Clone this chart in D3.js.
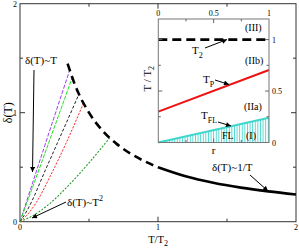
<!DOCTYPE html>
<html><head><meta charset="utf-8">
<script src="https://cdn.jsdelivr.net/npm/d3@7"></script>
<style>body{margin:0;background:#fff}svg{display:block}text{font-family:"Liberation Serif","Times New Roman",serif;fill:#000}</style>
</head><body><svg id="c" width="299" height="249"></svg>
<script>
// ---- data ----
const xTicksMain = [0, 1, 2];
const yTicksMain = [0, 1, 2];
const purpleT = [0, 0.18, 0.36];
const purpleD = [0, 0.70, 1.39];
const greenT = [0, 0.19, 0.378];
const greenD = [0, 0.66, 1.32];
const blackT = [0, 0.05, 0.2, 0.427];
const blackD = [0, 0.1, 0.52, 1.17];
const redT = [0, 0.05, 0.12, 0.22, 0.33, 0.46];
const redD = [0, 0.06, 0.18, 0.42, 0.71, 1.087];
const dotT = [0, 0.1, 0.2, 0.35, 0.5, 0.65];
const dotD = [0, 0.06, 0.15, 0.33, 0.54, 0.77];
const dashT = [0.345, 0.4, 0.5, 0.6, 0.7, 0.8, 0.9, 1.0];
const dashD = [1.45, 1.25, 1.0, 0.833, 0.714, 0.625, 0.556, 0.5];
const solidT = [1, 1.2, 1.4, 1.6, 1.8, 2];
const solidD = [0.5, 0.417, 0.357, 0.3125, 0.278, 0.25];
// inset
const insetR = [0, 1];
const insetT2 = [1, 1];
const insetTP = [0.3, 0.705];
const insetTFL = [0, 0.24];
const insetXTicks = [0, 0.5, 1];
const insetYTicks = [0, 0.5, 1];

const svg = d3.select("#c");
const x = d3.scaleLinear().domain([0, 2]).range([20, 296]);
const y = d3.scaleLinear().domain([0, 2]).range([221.7, 3.7]);

const zip = (a, b) => a.map((v, i) => [v, b[i]]);

// arrow marker
const defs = svg.append("defs");
defs.append("marker").attr("id", "ah").attr("viewBox", "0 0 10 10").attr("refX", 10).attr("refY", 5)
  .attr("markerWidth", 6).attr("markerHeight", 5).attr("orient", "auto").attr("markerUnits", "userSpaceOnUse")
  .append("path").attr("d", "M0,0L10,5L0,10z").attr("fill", "#000");
const pat = defs.append("pattern").attr("id", "hatch").attr("patternUnits", "userSpaceOnUse")
  .attr("width", 2.6).attr("height", 4);
pat.append("line").attr("x1", 0.5).attr("x2", 0.5).attr("y1", 0).attr("y2", 4)
  .attr("stroke", "#3fd6cc").attr("stroke-width", 0.9);

// main frame
svg.append("rect").attr("x", x(0)).attr("y", y(2)).attr("width", x(2) - x(0)).attr("height", y(0) - y(2))
  .attr("fill", "none").attr("stroke", "#333").attr("stroke-width", 1);

// main ticks (inward), all four sides
const tk = svg.append("g").attr("stroke", "#333").attr("stroke-width", 1);
[0.5, 1, 1.5].forEach(v => {
  const L = Number.isInteger(v) ? 5 : 3;
  tk.append("line").attr("x1", x(v)).attr("x2", x(v)).attr("y1", y(0)).attr("y2", y(0) - L);
  tk.append("line").attr("x1", x(v)).attr("x2", x(v)).attr("y1", y(2)).attr("y2", y(2) + L);
  tk.append("line").attr("x1", x(0)).attr("x2", x(0) + L).attr("y1", y(v)).attr("y2", y(v));
  tk.append("line").attr("x1", x(2)).attr("x2", x(2) - L).attr("y1", y(v)).attr("y2", y(v));
});
xTicksMain.forEach(v => svg.append("text").attr("x", x(v)).attr("y", y(0) + 8.5).attr("text-anchor", "middle")
  .attr("font-size", 8).text(v));
yTicksMain.forEach(v => svg.append("text").attr("x", x(0) - 3).attr("y", y(v) + 3).attr("text-anchor", "end")
  .attr("font-size", 8).text(v));

svg.append("text").attr("transform", `translate(12,${y(1)}) rotate(-90)`).attr("text-anchor", "middle")
  .attr("font-size", 12).text("δ(T)");
const xl = svg.append("text").attr("x", x(1)).attr("y", 243).attr("text-anchor", "middle").attr("font-size", 10.5);
xl.append("tspan").text("T/T");
xl.append("tspan").attr("font-size", 8).attr("dy", 3).text("2");

const line = d3.line().x(d => x(d[0])).y(d => y(d[1])).curve(d3.curveMonotoneX);
const curves = [
  [purpleT, purpleD, "#9a3cf0", "4,1.6", 1],
  [greenT, greenD, "#22e022", "4,1.2", 1],
  [blackT, blackD, "#222", "3,2", 1],
  [redT, redD, "#ff2a2a", "2.2,1.4", 1],
  [dotT, dotD, "#2a962a", "2,1.5", 1.1],
];
curves.forEach(([t, d, c, da, w]) => svg.append("path").attr("d", line(zip(t, d))).attr("fill", "none")
  .attr("stroke", c).attr("stroke-width", w).attr("stroke-dasharray", da));

svg.append("path").attr("d", line(zip(dashT, dashD))).attr("fill", "none").attr("stroke", "#000")
  .attr("stroke-width", 2.6).attr("stroke-dasharray", "8,5");
svg.append("path").attr("d", line(zip(solidT, solidD))).attr("fill", "none").attr("stroke", "#000")
  .attr("stroke-width", 2.6);

// main annotations
function label(xp, yp, parts, fs) {
  const t = svg.append("text").attr("x", xp).attr("y", yp).attr("font-size", fs);
  parts.forEach(p => { const s = t.append("tspan").text(p[0]); if (p[1]) s.attr("font-size", p[1]).attr("dy", p[2]); });
  return t;
}
function arrow(x1, y1, x2, y2) {
  svg.append("line").attr("x1", x1).attr("y1", y1).attr("x2", x2).attr("y2", y2)
    .attr("stroke", "#000").attr("stroke-width", 1).attr("marker-end", "url(#ah)");
}
label(25, 64, [["δ(T)~T"]], 11);
arrow(34, 70, 32.5, 172);
label(67, 206, [["δ(T)~T"], ["2", 8, -5]], 11);
arrow(66, 202, 32, 218);
label(212, 171, [["δ(T)~1/T"]], 11);
arrow(250, 175, 268, 191);

// ---- inset ----
const ix = d3.scaleLinear().domain([0, 1]).range([158.3, 269]);
const iy = d3.scaleLinear().domain([0, 1.2]).range([142.5, 19]);
const ig = svg.append("g");
ig.append("rect").attr("x", ix(0)).attr("y", iy(1.2)).attr("width", ix(1) - ix(0)).attr("height", iy(0) - iy(1.2))
  .attr("fill", "#fff");
const iline = d3.line().x(d => ix(d[0])).y(d => iy(d[1]));
const area = d3.area().x(d => ix(d[0])).y0(iy(0)).y1(d => iy(d[1]));
ig.append("path").attr("d", area(zip(insetR, insetTFL))).attr("fill", "url(#hatch)");
ig.append("path").attr("d", iline(zip(insetR, insetTFL))).attr("fill", "none").attr("stroke", "#3fd6cc").attr("stroke-width", 2);
ig.append("path").attr("d", iline(zip(insetR, insetTP))).attr("fill", "none").attr("stroke", "#f01010").attr("stroke-width", 2);
ig.append("path").attr("d", iline(zip(insetR, insetT2))).attr("fill", "none").attr("stroke", "#000").attr("stroke-width", 2.6)
  .attr("stroke-dasharray", "9,5");
ig.append("rect").attr("x", ix(0)).attr("y", iy(1.2)).attr("width", ix(1) - ix(0)).attr("height", iy(0) - iy(1.2))
  .attr("fill", "none").attr("stroke", "#777").attr("stroke-width", 1);
const itk = ig.append("g").attr("stroke", "#666").attr("stroke-width", 1);
[0.25, 0.5, 0.75].forEach(v => {
  const L = v === 0.5 ? 4 : 2.5;
  itk.append("line").attr("x1", ix(v)).attr("x2", ix(v)).attr("y1", iy(0)).attr("y2", iy(0) - L);
  itk.append("line").attr("x1", ix(v)).attr("x2", ix(v)).attr("y1", iy(1.2)).attr("y2", iy(1.2) + L);
});
[0.25, 0.5, 0.75, 1].forEach(v => {
  const L = (v === 0.5 || v === 1) ? 4 : 2.5;
  itk.append("line").attr("x1", ix(0)).attr("x2", ix(0) + L).attr("y1", iy(v)).attr("y2", iy(v));
  itk.append("line").attr("x1", ix(1)).attr("x2", ix(1) - L).attr("y1", iy(v)).attr("y2", iy(v));
});
insetXTicks.forEach(v => ig.append("text").attr("x", ix(v)).attr("y", iy(1.2) - 3).attr("text-anchor", "middle")
  .attr("font-size", 8).text(v));
insetYTicks.forEach(v => ig.append("text").attr("x", ix(1) + 3).attr("y", iy(v) + 3).attr("font-size", 8).text(v));
ig.append("text").attr("x", ix(0.5)).attr("y", iy(0) + 11).attr("text-anchor", "middle").attr("font-size", 11).text("r");
const iyl = ig.append("text").attr("transform", `translate(151,${iy(0.62)}) rotate(-90)`).attr("text-anchor", "middle").attr("font-size", 11);
iyl.append("tspan").text("T / T");
iyl.append("tspan").attr("font-size", 8).attr("dy", 3).text("2");

label(245, 31, [["(III)"]], 10);
label(245, 64, [["(IIb)"]], 10);
label(244, 110, [["(IIa)"]], 10);
label(246, 139, [["(I)"]], 10);
label(222, 139, [["FL"]], 10);
label(192, 54, [["T", 11], ["2", 8, 4]], 11);
arrow(205, 48, 227, 39.5);
label(203, 83, [["T"], ["P", 8, 4]], 11);
arrow(215, 80, 229, 84.5);
label(201, 119, [["T"], ["FL", 8, 4]], 11);
arrow(218, 122, 231, 126);
</script></body></html>
